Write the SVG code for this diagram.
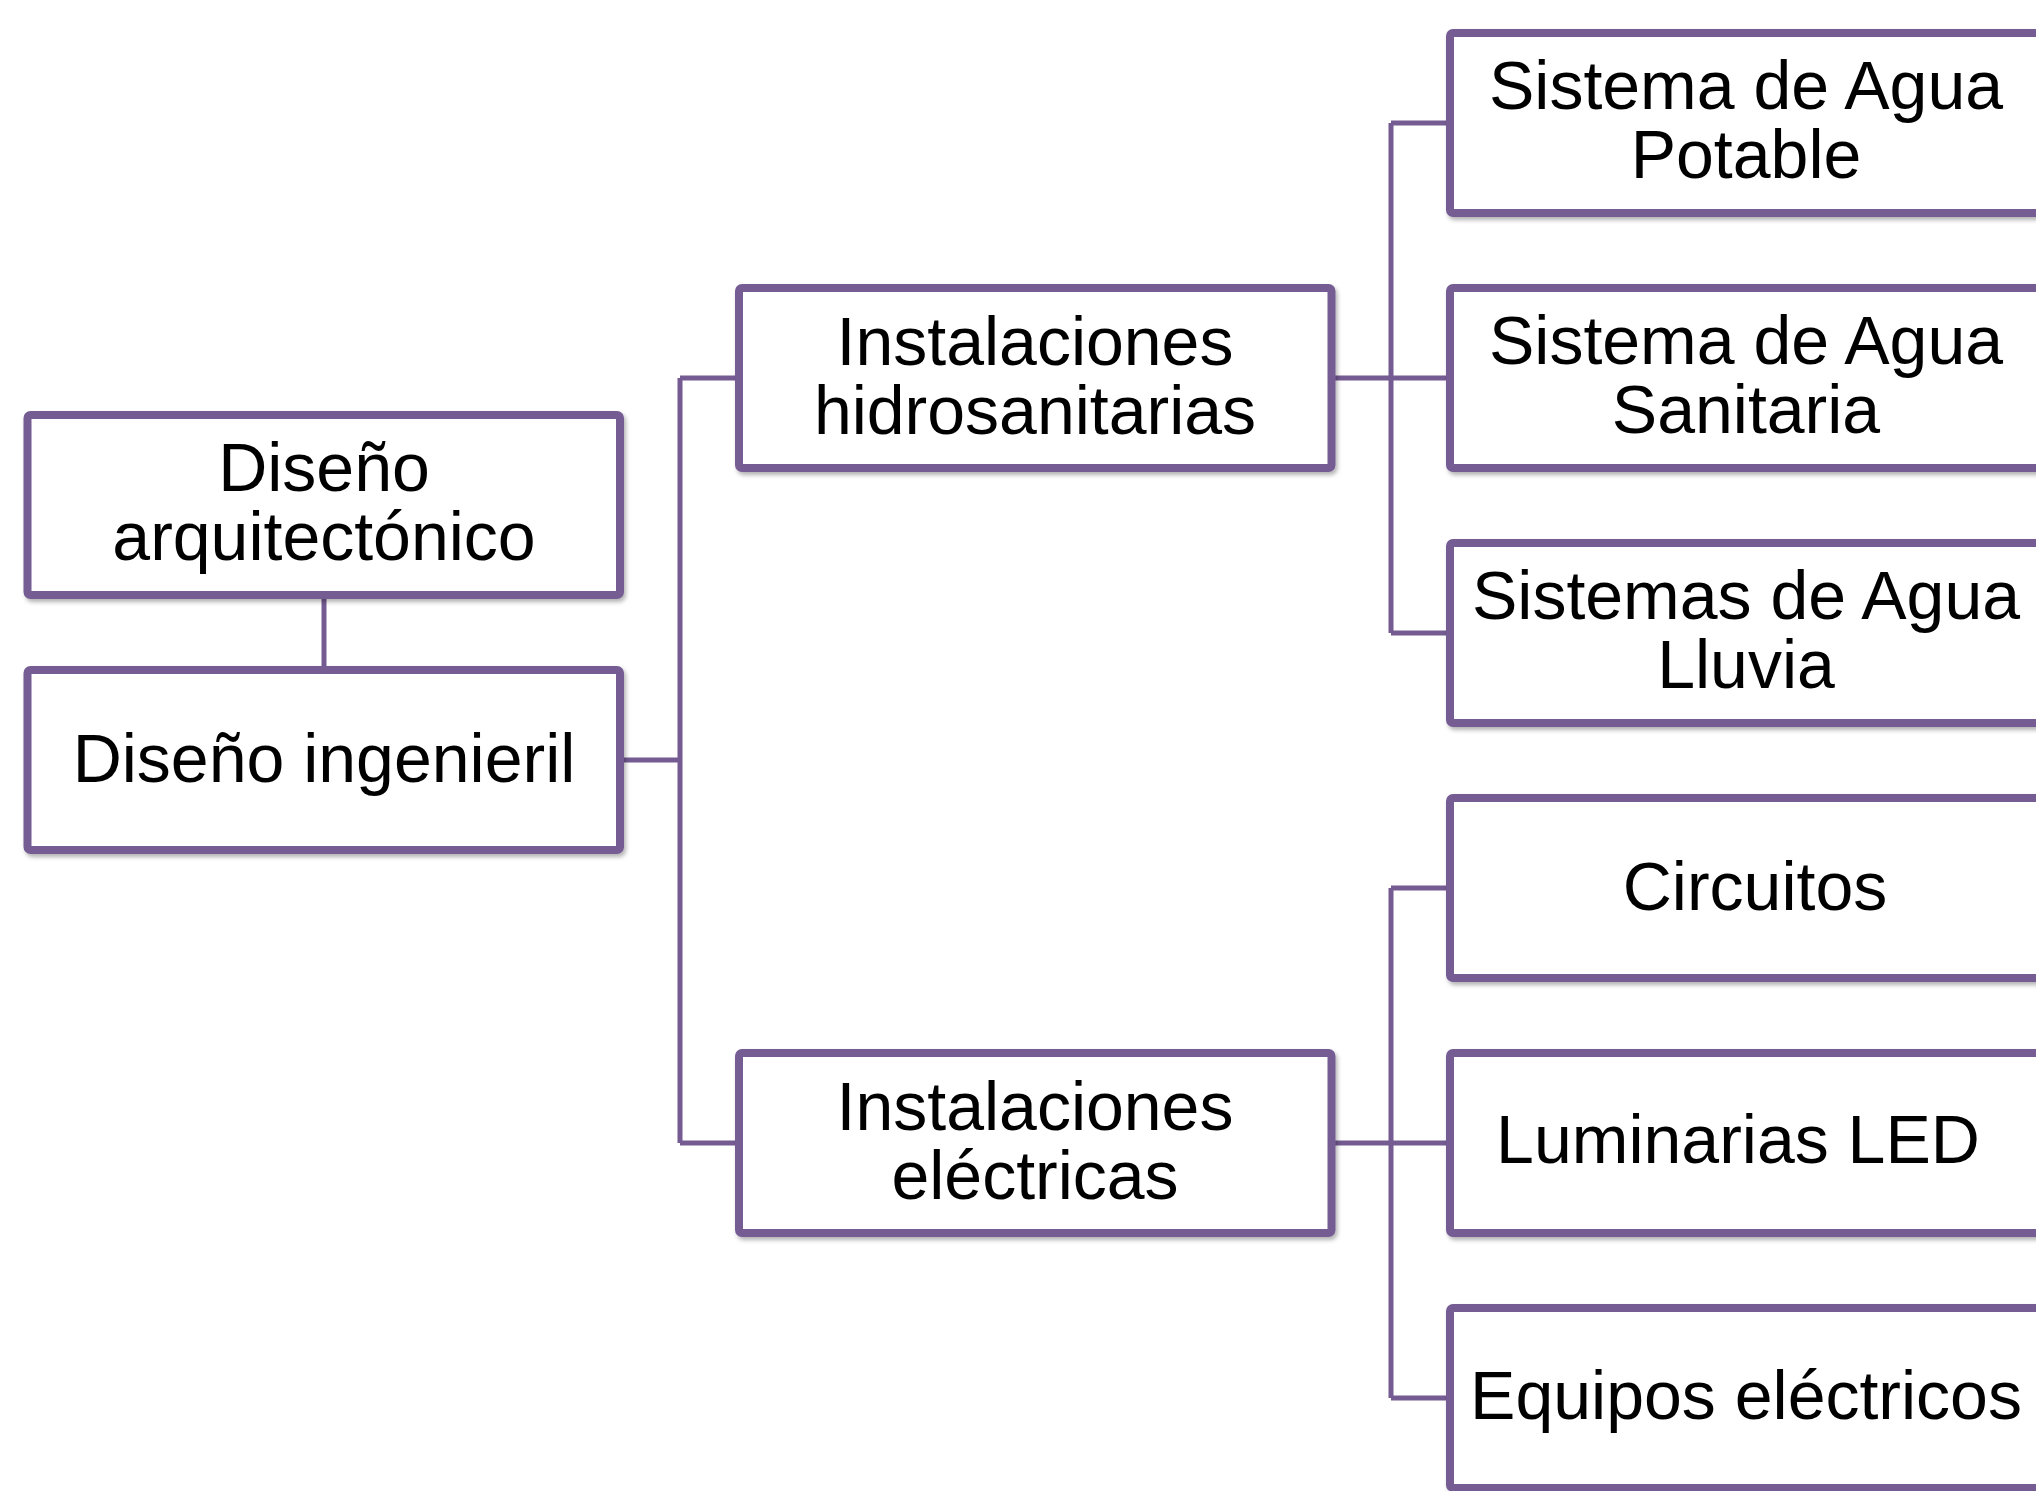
<svg xmlns="http://www.w3.org/2000/svg" width="2036" height="1491" viewBox="0 0 2036 1491">
<defs>
<filter id="sh" x="-5%" y="-5%" width="110%" height="115%">
<feDropShadow dx="2" dy="3" stdDeviation="2" flood-color="#000" flood-opacity="0.3"/>
</filter>
<style>
.box{fill:#fff;stroke:#745B92;stroke-width:8;filter:url(#sh)}
.con{fill:none;stroke:#745B92;stroke-width:5}
text{font-family:"Liberation Sans",Arial,sans-serif;font-size:68px;fill:#000;text-anchor:middle}
</style>
</defs>
<rect width="2036" height="1491" fill="#fff"/>
<g id="connectors">
<path class="con" d="M324 595V670"/>
<path class="con" d="M620 760H680M680 378V1143M680 378H739M680 1143H739"/>
<path class="con" d="M1331 378H1450M1391 123V633M1391 123H1450M1391 633H1450"/>
<path class="con" d="M1331 1143H1450M1391 888V1398M1391 888H1450M1391 1398H1450"/>
</g>
<g id="n-arq"><rect class="box" x="27.5" y="415" width="592.5" height="180" rx="3"/><text x="324" y="491">Diseño</text><text x="324" y="560">arquitectónico</text></g>
<g id="n-ing"><rect class="box" x="27.5" y="670" width="592.5" height="180" rx="3"/><text x="324" y="782">Diseño ingenieril</text></g>
<g id="n-hid"><rect class="box" x="739" y="288" width="592.5" height="180" rx="3"/><text x="1035" y="365">Instalaciones</text><text x="1035" y="434">hidrosanitarias</text></g>
<g id="n-ele"><rect class="box" x="739" y="1053" width="592.5" height="180" rx="3"/><text x="1035" y="1130">Instalaciones</text><text x="1035" y="1199">eléctricas</text></g>
<g id="n-pot"><rect class="box" x="1450" y="33" width="592.5" height="180" rx="3"/><text x="1746" y="109">Sistema de Agua</text><text x="1746" y="178">Potable</text></g>
<g id="n-san"><rect class="box" x="1450" y="288" width="592.5" height="180" rx="3"/><text x="1746" y="364">Sistema de Agua</text><text x="1746" y="433">Sanitaria</text></g>
<g id="n-llu"><rect class="box" x="1450" y="543" width="592.5" height="180" rx="3"/><text x="1746" y="619">Sistemas de Agua</text><text x="1746" y="688">Lluvia</text></g>
<g id="n-cir"><rect class="box" x="1450" y="798" width="592.5" height="180" rx="3"/><text x="1755" y="910">Circuitos</text></g>
<g id="n-lum"><rect class="box" x="1450" y="1053" width="592.5" height="180" rx="3"/><text x="1738" y="1163">Luminarias LED</text></g>
<g id="n-equ"><rect class="box" x="1450" y="1308" width="592.5" height="180" rx="3"/><text x="1746" y="1419">Equipos eléctricos</text></g>
</svg>
